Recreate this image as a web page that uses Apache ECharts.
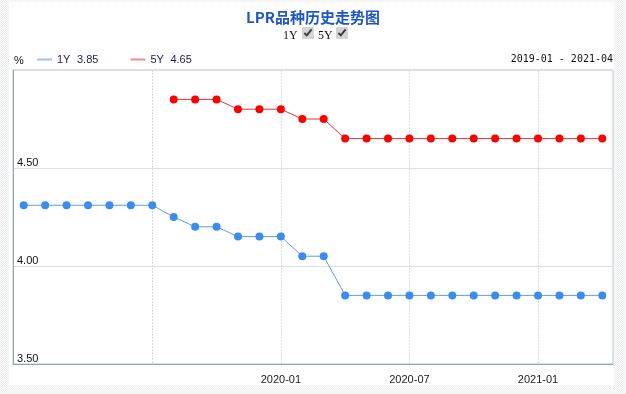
<!DOCTYPE html>
<html><head><meta charset="utf-8">
<script src="https://cdn.jsdelivr.net/npm/echarts@6.0.0/dist/echarts.min.js"></script>
<style>
html,body{margin:0;padding:0;width:626px;height:394px;overflow:hidden;}
body{position:relative;background:repeating-conic-gradient(#ededed 0 25%,#fff 0 50%) 0 0/2px 2px;}
#paper{position:absolute;left:9px;top:2px;width:605px;height:383px;background:#fff;}
#chart{position:absolute;left:0;top:0;width:626px;height:394px;}
.lbl{position:absolute;top:28px;font:12px 'Liberation Serif','DejaVu Serif',serif;color:#111;}
.cb{position:absolute;top:27px;margin:0;width:12px;height:12px;accent-color:#d4d4d4;}
</style></head>
<body>
<div id="paper"></div>
<div id="chart"></div>
<span class="lbl" style="left:283px">1Y</span>
<input class="cb" type="checkbox" checked style="left:302px">
<span class="lbl" style="left:318px">5Y</span>
<input class="cb" type="checkbox" checked style="left:336px">
<script>
const months = ['2019-01','2019-02','2019-03','2019-04','2019-05','2019-06','2019-07','2019-08','2019-09','2019-10','2019-11','2019-12',
  '2020-01','2020-02','2020-03','2020-04','2020-05','2020-06','2020-07','2020-08','2020-09','2020-10','2020-11','2020-12',
  '2021-01','2021-02','2021-03','2021-04'];
const lpr1y = [4.31,4.31,4.31,4.31,4.31,4.31,4.31,4.25,4.20,4.20,4.15,4.15,
  4.15,4.05,4.05,3.85,3.85,3.85,3.85,3.85,3.85,3.85,3.85,3.85,
  3.85,3.85,3.85,3.85];
const lpr5y = [null,null,null,null,null,null,null,4.85,4.85,4.85,4.80,4.80,
  4.80,4.75,4.75,4.65,4.65,4.65,4.65,4.65,4.65,4.65,4.65,4.65,
  4.65,4.65,4.65,4.65];
const xLabelMonths = ['2020-01','2020-07','2021-01'];
const xGridMonths = ['2019-07','2020-01','2020-07','2021-01'];
const yTicks = [3.5, 4.0, 4.5, 5.0];

const last = arr => arr[arr.length-1];
const chart = echarts.init(document.getElementById('chart'), null, {renderer:'canvas'});
chart.setOption({
  animation:false,
  backgroundColor:'transparent',
  title:{text:'LPR品种历史走势图', left:'center', top:5,
    textStyle:{fontSize:15, fontWeight:'bold', color:'#1f56c6', fontFamily:'Noto Sans CJK SC'}},
  legend:{
    left:37, top:54, padding:0, itemWidth:15, itemHeight:2, itemGap:32, icon:'rect', selectedMode:false,
    data:[{name:'1Y', itemStyle:{color:'#9cc3ef'}},{name:'5Y', itemStyle:{color:'#f08c8c'}}],
    formatter: n => '{n|' + n + '}{v|' + (n==='1Y' ? last(lpr1y) : last(lpr5y)).toFixed(2) + '}',
    textStyle:{fontFamily:'Liberation Sans', fontSize:11, color:'#1c1c55',
      rich:{n:{width:20, fontFamily:'Liberation Sans', fontSize:11, color:'#1c1c55'},
            v:{fontFamily:'Liberation Sans', fontSize:11, color:'#1c1c55'}}}
  },
  graphic:[
    {type:'text', left:14, top:55, style:{text:'%', fontFamily:'Liberation Sans', fontSize:11, fill:'#111'}},
    {type:'text', right:13, top:54, style:{text:months[0] + ' - ' + last(months), fontFamily:'DejaVu Sans Mono', fontSize:10, fill:'#111'}}
  ],
  grid:{left:13, right:13, top:70, bottom:30, show:true, borderColor:'#b6c2d2', borderWidth:1},
  xAxis:{type:'category', data:months, boundaryGap:true,
    axisLine:{lineStyle:{color:'#98a2b2'}}, axisTick:{show:false},
    axisLabel:{interval:(i,v)=>xLabelMonths.includes(v), color:'#222', fontFamily:'Liberation Sans', fontSize:11, margin:10},
    splitLine:{show:true, alignWithLabel:true, interval:(i,v)=>xGridMonths.includes(v), lineStyle:{color:'#dadada', type:[2,1]}}
  },
  yAxis:{type:'value', min:yTicks[0], max:last(yTicks), interval:0.5,
    axisLine:{show:true, lineStyle:{color:'#98a2b2'}}, axisTick:{show:false},
    axisLabel:{inside:true, verticalAlign:'bottom', margin:4, color:'#111', fontFamily:'Liberation Sans', fontSize:11,
      formatter:v => v >= last(yTicks) ? '' : v.toFixed(2)},
    splitLine:{lineStyle:{color:'#dedede'}}
  },
  series:[
    {name:'1Y', type:'line', data:lpr1y, symbol:'circle', symbolSize:8, showAllSymbol:true,
      itemStyle:{color:'#3b8ced'}, lineStyle:{color:'#5c9fe6', width:1}},
    {name:'5Y', type:'line', data:lpr5y, symbol:'circle', symbolSize:8, showAllSymbol:true,
      itemStyle:{color:'#ff0000'}, lineStyle:{color:'#e83030', width:1}}
  ]
});
</script>
</body></html>
